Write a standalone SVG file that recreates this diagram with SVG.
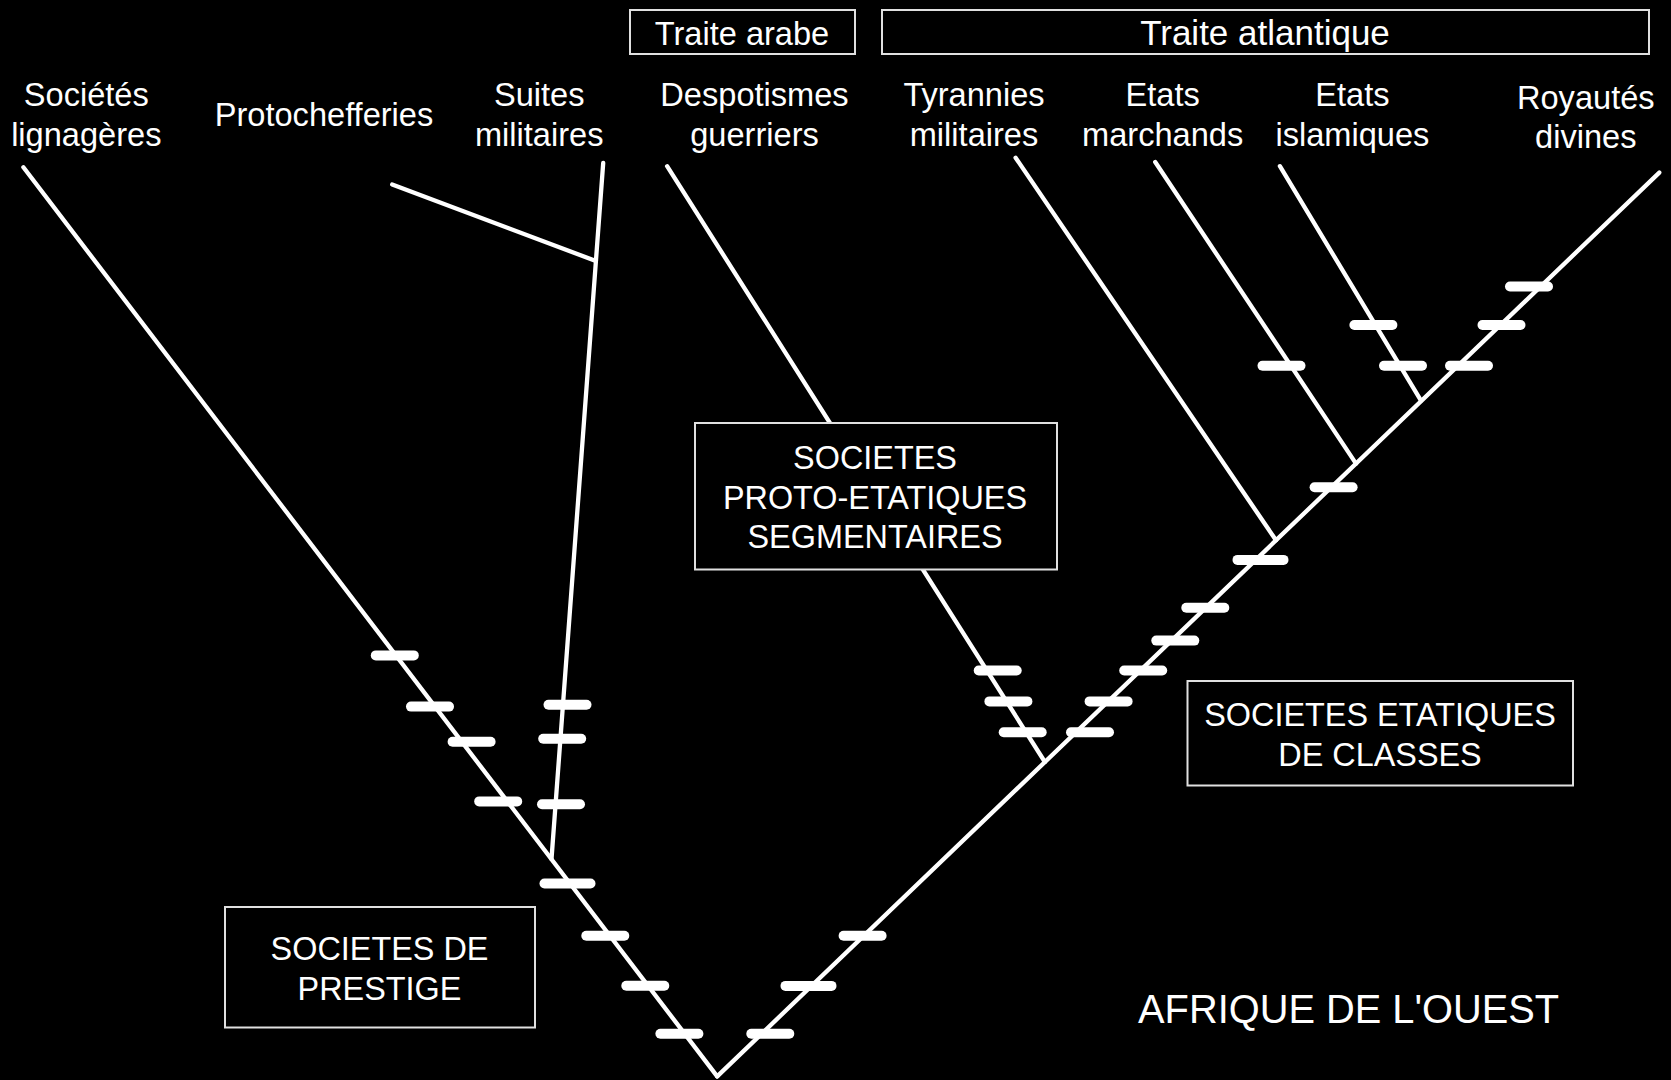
<svg xmlns="http://www.w3.org/2000/svg" width="1671" height="1080" viewBox="0 0 1671 1080">
<style>
.ln{stroke:#fff;stroke-width:4.3;fill:none;stroke-linecap:round}
.tk{stroke:#fff;stroke-width:10;stroke-linecap:round}
.box{fill:#000;stroke:#e0e0e0;stroke-width:2}
text{font-family:"Liberation Sans",Arial,Helvetica,sans-serif;fill:#fff;text-anchor:middle}
.lb{font-size:32.6px}
.bx{font-size:32.4px}
</style>
<rect x="0" y="0" width="1671" height="1080" fill="#000"/>
<g id="connectors">
<line class="ln" x1="23.4" y1="167.3" x2="717.2" y2="1076.4"/>
<line class="ln" x1="717.2" y1="1076.4" x2="1659.3" y2="172.6"/>
<line class="ln" x1="603.2" y1="163" x2="551.5" y2="859"/>
<line class="ln" x1="392.2" y1="184.4" x2="595.9" y2="261"/>
<line class="ln" x1="667.1" y1="166.2" x2="1044.9" y2="762"/>
<line class="ln" x1="1015.6" y1="157.7" x2="1276" y2="540.3"/>
<line class="ln" x1="1155.2" y1="162" x2="1356" y2="463.6"/>
<line class="ln" x1="1279.9" y1="166.2" x2="1421" y2="400.7"/>
</g>
<g id="ticks">
<line class="tk" x1="375.8" y1="655.4" x2="413.8" y2="655.4"/>
<line class="tk" x1="411" y1="706.6" x2="449" y2="706.6"/>
<line class="tk" x1="452.6" y1="741.7" x2="490.6" y2="741.7"/>
<line class="tk" x1="479.2" y1="801.4" x2="517.2" y2="801.4"/>
<line class="tk" x1="544.5" y1="883.5" x2="590.5" y2="883.5"/>
<line class="tk" x1="586.3" y1="935.7" x2="624.3" y2="935.7"/>
<line class="tk" x1="626.3" y1="985.8" x2="664.3" y2="985.8"/>
<line class="tk" x1="660.4" y1="1033.7" x2="698.4" y2="1033.7"/>
<line class="tk" x1="548.5" y1="704.8" x2="586.5" y2="704.8"/>
<line class="tk" x1="543.2" y1="738.8" x2="581.2" y2="738.8"/>
<line class="tk" x1="542" y1="804.3" x2="580" y2="804.3"/>
<line class="tk" x1="978.7" y1="670.5" x2="1016.7" y2="670.5"/>
<line class="tk" x1="989.4" y1="701.4" x2="1027.4" y2="701.4"/>
<line class="tk" x1="1003.7" y1="732.2" x2="1041.7" y2="732.2"/>
<line class="tk" x1="751.3" y1="1033.7" x2="789.3" y2="1033.7"/>
<line class="tk" x1="785.5" y1="985.9" x2="831.5" y2="985.9"/>
<line class="tk" x1="843.6" y1="935.8" x2="881.6" y2="935.8"/>
<line class="tk" x1="1071" y1="732.2" x2="1109" y2="732.2"/>
<line class="tk" x1="1089.6" y1="701.4" x2="1127.6" y2="701.4"/>
<line class="tk" x1="1124.2" y1="670.5" x2="1162.2" y2="670.5"/>
<line class="tk" x1="1156.3" y1="640.6" x2="1194.3" y2="640.6"/>
<line class="tk" x1="1186.3" y1="607.7" x2="1224.3" y2="607.7"/>
<line class="tk" x1="1237.5" y1="559.9" x2="1283.5" y2="559.9"/>
<line class="tk" x1="1314.6" y1="487.2" x2="1352.6" y2="487.2"/>
<line class="tk" x1="1450" y1="365.8" x2="1488" y2="365.8"/>
<line class="tk" x1="1482.5" y1="325" x2="1520.5" y2="325"/>
<line class="tk" x1="1510" y1="286.5" x2="1548" y2="286.5"/>
<line class="tk" x1="1262.5" y1="365.8" x2="1300.5" y2="365.8"/>
<line class="tk" x1="1384" y1="365.8" x2="1422" y2="365.8"/>
<line class="tk" x1="1354.4" y1="325" x2="1392.4" y2="325"/>
</g>
<g id="traite-arabe">
<rect class="box" x="630" y="10" width="225" height="44"/>
<text class="lb" x="742" y="45">Traite arabe</text>
</g>
<g id="traite-atlantique">
<rect class="box" x="882" y="10" width="767" height="44"/>
<text x="1265" y="44.5" style="font-size:35px">Traite atlantique</text>
</g>
<g id="societes-lignageres">
<text class="lb" x="86.3" y="106">Sociétés</text>
<text class="lb" x="86.3" y="146">lignagères</text>
</g>
<g id="protochefferies">
<text class="lb" x="324" y="125.5">Protochefferies</text>
</g>
<g id="suites-militaires">
<text class="lb" x="539.2" y="106">Suites</text>
<text class="lb" x="539.2" y="146">militaires</text>
</g>
<g id="despotismes-guerriers">
<text class="lb" x="754.5" y="106">Despotismes</text>
<text class="lb" x="754.5" y="146">guerriers</text>
</g>
<g id="tyrannies-militaires">
<text class="lb" x="974" y="106">Tyrannies</text>
<text class="lb" x="974" y="146">militaires</text>
</g>
<g id="etats-marchands">
<text class="lb" x="1162.7" y="106">Etats</text>
<text class="lb" x="1162.7" y="146">marchands</text>
</g>
<g id="etats-islamiques">
<text class="lb" x="1352.4" y="106">Etats</text>
<text class="lb" x="1352.4" y="146">islamiques</text>
</g>
<g id="royautes-divines">
<text class="lb" x="1585.8" y="108.5">Royautés</text>
<text class="lb" x="1585.8" y="148">divines</text>
</g>
<g id="societes-proto-etatiques">
<rect class="box" x="695" y="423" width="362" height="146.5"/>
<text class="bx" x="875" y="468.5">SOCIETES</text>
<text class="bx" x="875" y="508.5">PROTO-ETATIQUES</text>
<text class="bx" x="875" y="548">SEGMENTAIRES</text>
</g>
<g id="societes-etatiques">
<rect class="box" x="1187.5" y="681" width="385.5" height="104.5"/>
<text class="bx" x="1380" y="725.5">SOCIETES ETATIQUES</text>
<text class="bx" x="1380" y="766">DE CLASSES</text>
</g>
<g id="societes-prestige">
<rect class="box" x="225" y="907" width="310" height="120.5"/>
<text class="bx" x="379.5" y="959.5">SOCIETES DE</text>
<text class="bx" x="379.5" y="999.5">PRESTIGE</text>
</g>
<g id="afrique-ouest">
<text x="1348.6" y="1023" style="font-size:39.8px">AFRIQUE DE L'OUEST</text>
</g>
</svg>
